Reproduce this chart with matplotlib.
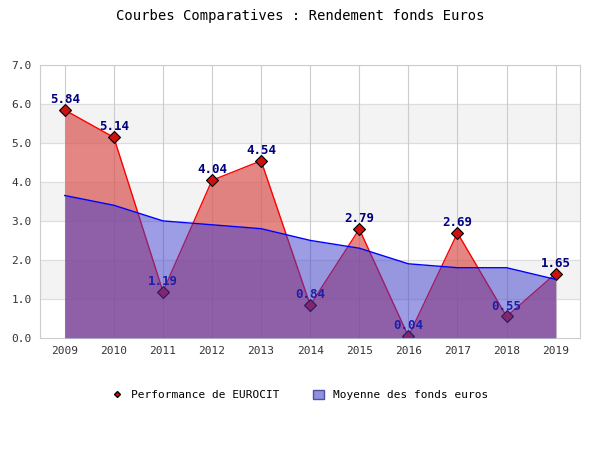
import matplotlib
matplotlib.use("Agg")
import matplotlib.pyplot as plt
from matplotlib.lines import Line2D
from matplotlib.patches import Patch

years = ["2009","2010","2011","2012","2013","2014","2015","2016","2017","2018","2019"]
eurocit = [5.84, 5.14, 1.19, 4.04, 4.54, 0.84, 2.79, 0.04, 2.69, 0.55, 1.65]
moyenne = [3.65, 3.4, 3.0, 2.9, 2.8, 2.5, 2.3, 1.9, 1.8, 1.8, 1.5]

fig = plt.figure(figsize=(6, 4.5), dpi=100)
ax = fig.add_axes([0.067, 0.249, 0.9, 0.607])
x = list(range(len(years)))
ax.set_xlim(-0.5, len(years) - 0.5)
ax.set_ylim(0, 7)
for lo in (1, 3, 5):
    ax.axhspan(lo, lo + 1, color="#f3f3f3", zorder=0)
for yv in range(1, 8):
    ax.axhline(yv, color="#dddddd", lw=0.8, zorder=0.5)
for xv in x:
    ax.axvline(xv, color="#cccccc", lw=0.8, zorder=0.5)

ax.fill_between(x, eurocit, color="#d9534f", alpha=0.7, lw=0, zorder=1)
ax.plot(x, eurocit, color="red", lw=1, zorder=2)
ax.plot(x, eurocit, "D", color="#cc1111", mec="black", mew=0.8, ms=6, zorder=2)
for xi, v in zip(x, eurocit):
    ax.text(xi, v + 0.1, f"{v:.2f}", ha="center", va="bottom", color="#000080",
            fontsize=9, fontweight="bold", family="DejaVu Sans Mono", zorder=2)
ax.fill_between(x, moyenne, color="#3c3ccc", alpha=0.5, lw=0, zorder=3)
ax.plot(x, moyenne, color="blue", lw=1, zorder=4)

ax.set_xticks(x)
ax.set_xticklabels(years)
ax.set_yticks(range(8))
ax.set_yticklabels([f"{v:.1f}" for v in range(8)])
ax.tick_params(length=0, labelsize=8, colors="#333333", pad=6)
for lab in ax.get_xticklabels() + ax.get_yticklabels():
    lab.set_family("DejaVu Sans Mono")
for s in ax.spines.values():
    s.set_color("#cccccc")

fig.text(0.5, 0.965, "Courbes Comparatives : Rendement fonds Euros", ha="center",
         va="center", fontsize=10, family="DejaVu Sans Mono")
handles = [Line2D([], [], marker="D", color="#cc1111", mec="black", ls="none", ms=3),
           Patch(facecolor="#9090e0", edgecolor="#5050a0")]
fig.legend(handles, ["Performance de EUROCIT", "Moyenne des fonds euros"],
           loc="center", bbox_to_anchor=(0.5, 0.122), ncol=2, frameon=False,
           prop={"family": "DejaVu Sans Mono", "size": 8}, columnspacing=3,
           handlelength=1, handleheight=0.8)
fig.savefig("out.png")
